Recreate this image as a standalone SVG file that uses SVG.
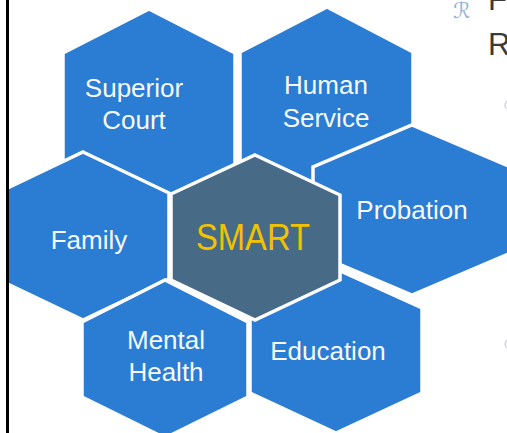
<svg xmlns="http://www.w3.org/2000/svg" width="507" height="433" viewBox="0 0 507 433">
  <style>
    .hex { fill: #2b7cd3; stroke: #ffffff; stroke-width: 3.5; stroke-linejoin: miter; }
    .core { fill: #476b86; stroke: #ffffff; stroke-width: 3.5; }
    .lbl { font-family: "Liberation Sans", Arial, sans-serif; font-size: 26px; fill: #f5f9fd; text-anchor: middle; }
    .core-lbl { font-family: "Liberation Sans", Arial, sans-serif; font-size: 37px; fill: #f2c200; text-anchor: middle; }
    .slide { font-family: "Liberation Sans", Arial, sans-serif; fill: #3a3a3a; }
  </style>
  <rect x="0" y="0" width="507" height="433" fill="#ffffff"/>
  <g id="slide-text">
    <text x="453" y="18" font-family="DejaVu Sans, sans-serif" font-size="22" fill="#8fb3dd">ℛ</text>
    <text class="slide" x="488" y="10" font-size="31">F</text>
    <text class="slide" x="488" y="55" font-size="31">R</text>
    <circle cx="509" cy="105" r="4" fill="none" stroke="#c8ccd2" stroke-width="1.2"/>
    <circle cx="509" cy="344" r="4" fill="none" stroke="#c8ccd2" stroke-width="1.2"/>
  </g>
  <g id="superior-court">
    <polygon class="hex" points="149,9 235,53 235,165 149,207 63,165 63,53"/>
    <text class="lbl" x="134" y="97">Superior</text>
    <text class="lbl" x="134" y="129">Court</text>
  </g>
  <g id="human-service">
    <polygon class="hex" points="327,7 413,52 413,160 327,202 240,160 240,52"/>
    <text class="lbl" x="326" y="94">Human</text>
    <text class="lbl" x="326" y="127">Service</text>
  </g>
  <g id="family">
    <polygon class="hex" points="83,152 169,193 169,279 83,320 -3,279 -3,193"/>
    <text class="lbl" x="89" y="249">Family</text>
  </g>
  <g id="probation">
    <polygon class="hex" points="412,125 511,167 511,253 412,295 313,253 313,167"/>
    <text class="lbl" x="412" y="219">Probation</text>
  </g>
  <g id="mental-health">
    <polygon class="hex" points="165,280 248,322 248,397 165,438 82,397 82,322"/>
    <text class="lbl" x="166" y="349">Mental</text>
    <text class="lbl" x="166" y="381">Health</text>
  </g>
  <g id="education">
    <polygon class="hex" points="336,269 422,308 422,393 336,433 250,393 250,308"/>
    <text class="lbl" x="328" y="360">Education</text>
  </g>
  <g id="smart">
    <polygon class="core" points="255,155 340,195 340,280 255,320 171,280 171,194"/>
    <text class="core-lbl" x="253" y="250" textLength="114" lengthAdjust="spacingAndGlyphs">SMART</text>
  </g>
  <g id="connectors"/>
  <g id="frame">
    <rect x="0" y="0" width="6" height="433" fill="#ffffff"/>
    <rect x="6" y="0" width="3" height="433" fill="#000000"/>
  </g>
</svg>
